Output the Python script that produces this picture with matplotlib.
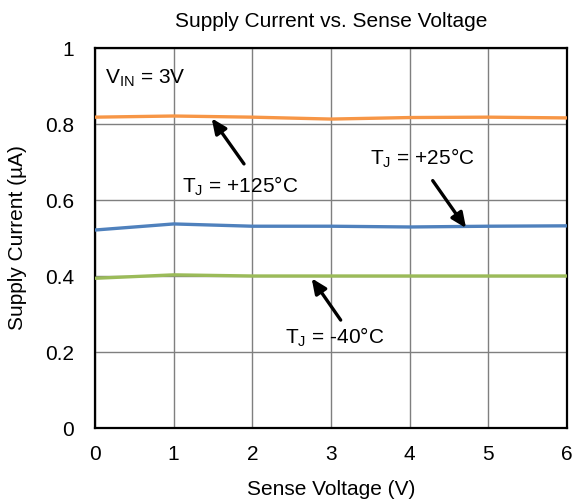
import matplotlib
matplotlib.use("Agg")
import matplotlib.pyplot as plt

plt.rcParams['font.family'] = ['Liberation Sans', 'DejaVu Sans']
plt.rcParams['mathtext.fontset'] = 'custom'
plt.rcParams['mathtext.rm'] = 'Liberation Sans'

sense_voltage = [0, 1, 2, 3, 4, 5, 6]
i_125 = [0.818, 0.821, 0.818, 0.813, 0.817, 0.818, 0.816]
i_25 = [0.521, 0.537, 0.531, 0.531, 0.529, 0.531, 0.532]
i_m40 = [0.394, 0.403, 0.400, 0.400, 0.400, 0.400, 0.400]
x_ticks = [0, 1, 2, 3, 4, 5, 6]
y_ticks = [0, 0.2, 0.4, 0.6, 0.8, 1.0]
y_tick_labels = ['0', '0.2', '0.4', '0.6', '0.8', '1']

fs = 15
fig = plt.figure(figsize=(5.74, 5.0), dpi=100)
ax = fig.add_axes([95/574, 72/500, 472/574, 380/500])

ax.plot(sense_voltage, i_125, color='#F79646', lw=2.4, zorder=3)
ax.plot(sense_voltage, i_25, color='#4F81BD', lw=2.4, zorder=3)
ax.plot(sense_voltage, i_m40, color='#9BBB59', lw=2.4, zorder=3)

ax.set_xlim(0, 6)
ax.set_ylim(0, 1)
ax.set_xticks(x_ticks)
ax.set_yticks(y_ticks)
ax.set_yticklabels(y_tick_labels)
ax.grid(True, color='#7f7f7f', lw=1.0)
ax.tick_params(length=0, labelsize=fs)
ax.tick_params(axis='x', pad=12)
ax.tick_params(axis='y', pad=15)
for s in ax.spines.values():
    s.set_linewidth(1.6)
    s.set_color('black')

ax.set_title('Supply Current vs. Sense Voltage', fontsize=fs, pad=15)
ax.set_xlabel('Sense Voltage (V)', fontsize=fs, labelpad=12)
ax.set_ylabel('Supply Current (µA)', fontsize=fs, labelpad=13)

ax.text(0.13, 0.921, r'V$_\mathregular{IN}$ = 3V', fontsize=fs, ha='left', va='center')

arrow = dict(arrowstyle='-|>,head_length=0.9,head_width=0.4', color='black', lw=2.4, shrinkA=0, shrinkB=0)
ax.annotate('', xy=(1.483, 0.815), xytext=(1.894, 0.695), arrowprops=arrow, zorder=4)
ax.text(1.843, 0.637, r'T$_\mathregular{J}$ = +125°C', fontsize=fs, ha='center', va='center')

ax.annotate('', xy=(4.717, 0.526), xytext=(4.293, 0.651), arrowprops=arrow, zorder=4)
ax.text(4.163, 0.711, r'T$_\mathregular{J}$ = +25°C', fontsize=fs, ha='center', va='center')

ax.annotate('', xy=(2.754, 0.394), xytext=(3.123, 0.284), arrowprops=arrow, zorder=4)
ax.text(3.05, 0.240, r'T$_\mathregular{J}$ = -40°C', fontsize=fs, ha='center', va='center')

fig.savefig('out.png', dpi=100)
